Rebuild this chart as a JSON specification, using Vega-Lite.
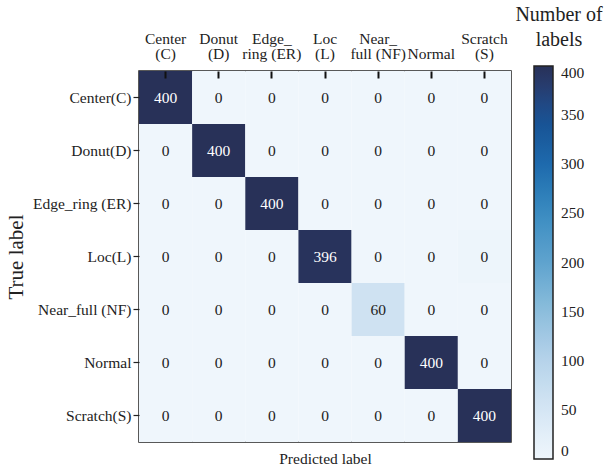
{
  "$schema": "https://vega.github.io/schema/vega-lite/v6.json",
  "width": 372,
  "height": 371,
  "autosize": {"type": "none"},
  "padding": {"left": 139, "top": 71, "right": 100, "bottom": 27},
  "background": "white",
  "config": {
    "font": "Liberation Serif",
    "view": {"stroke": "#222", "strokeWidth": 1.5},
    "axis": {"titleFont": "Liberation Serif", "labelFont": "Liberation Serif"}
  },
  "data": {
    "values": [
      {"t": "Center(C)", "p": "Center(C)", "n": 400, "s": "400"},
      {"t": "Center(C)", "p": "Donut(D)", "n": 0, "s": "0"},
      {"t": "Center(C)", "p": "Edge_ring (ER)", "n": 0, "s": "0"},
      {"t": "Center(C)", "p": "Loc(L)", "n": 0, "s": "0"},
      {"t": "Center(C)", "p": "Near_full (NF)", "n": 0, "s": "0"},
      {"t": "Center(C)", "p": "Normal", "n": 0, "s": "0"},
      {"t": "Center(C)", "p": "Scratch(S)", "n": 0, "s": "0"},
      {"t": "Donut(D)", "p": "Center(C)", "n": 0, "s": "0"},
      {"t": "Donut(D)", "p": "Donut(D)", "n": 400, "s": "400"},
      {"t": "Donut(D)", "p": "Edge_ring (ER)", "n": 0, "s": "0"},
      {"t": "Donut(D)", "p": "Loc(L)", "n": 0, "s": "0"},
      {"t": "Donut(D)", "p": "Near_full (NF)", "n": 0, "s": "0"},
      {"t": "Donut(D)", "p": "Normal", "n": 0, "s": "0"},
      {"t": "Donut(D)", "p": "Scratch(S)", "n": 0, "s": "0"},
      {"t": "Edge_ring (ER)", "p": "Center(C)", "n": 0, "s": "0"},
      {"t": "Edge_ring (ER)", "p": "Donut(D)", "n": 0, "s": "0"},
      {"t": "Edge_ring (ER)", "p": "Edge_ring (ER)", "n": 400, "s": "400"},
      {"t": "Edge_ring (ER)", "p": "Loc(L)", "n": 0, "s": "0"},
      {"t": "Edge_ring (ER)", "p": "Near_full (NF)", "n": 0, "s": "0"},
      {"t": "Edge_ring (ER)", "p": "Normal", "n": 0, "s": "0"},
      {"t": "Edge_ring (ER)", "p": "Scratch(S)", "n": 0, "s": "0"},
      {"t": "Loc(L)", "p": "Center(C)", "n": 0, "s": "0"},
      {"t": "Loc(L)", "p": "Donut(D)", "n": 0, "s": "0"},
      {"t": "Loc(L)", "p": "Edge_ring (ER)", "n": 0, "s": "0"},
      {"t": "Loc(L)", "p": "Loc(L)", "n": 396, "s": "396"},
      {"t": "Loc(L)", "p": "Near_full (NF)", "n": 0, "s": "0"},
      {"t": "Loc(L)", "p": "Normal", "n": 0, "s": "0"},
      {"t": "Loc(L)", "p": "Scratch(S)", "n": 4, "s": "0"},
      {"t": "Near_full (NF)", "p": "Center(C)", "n": 0, "s": "0"},
      {"t": "Near_full (NF)", "p": "Donut(D)", "n": 0, "s": "0"},
      {"t": "Near_full (NF)", "p": "Edge_ring (ER)", "n": 0, "s": "0"},
      {"t": "Near_full (NF)", "p": "Loc(L)", "n": 0, "s": "0"},
      {"t": "Near_full (NF)", "p": "Near_full (NF)", "n": 60, "s": "60"},
      {"t": "Near_full (NF)", "p": "Normal", "n": 0, "s": "0"},
      {"t": "Near_full (NF)", "p": "Scratch(S)", "n": 0, "s": "0"},
      {"t": "Normal", "p": "Center(C)", "n": 0, "s": "0"},
      {"t": "Normal", "p": "Donut(D)", "n": 0, "s": "0"},
      {"t": "Normal", "p": "Edge_ring (ER)", "n": 0, "s": "0"},
      {"t": "Normal", "p": "Loc(L)", "n": 0, "s": "0"},
      {"t": "Normal", "p": "Near_full (NF)", "n": 0, "s": "0"},
      {"t": "Normal", "p": "Normal", "n": 400, "s": "400"},
      {"t": "Normal", "p": "Scratch(S)", "n": 0, "s": "0"},
      {"t": "Scratch(S)", "p": "Center(C)", "n": 0, "s": "0"},
      {"t": "Scratch(S)", "p": "Donut(D)", "n": 0, "s": "0"},
      {"t": "Scratch(S)", "p": "Edge_ring (ER)", "n": 0, "s": "0"},
      {"t": "Scratch(S)", "p": "Loc(L)", "n": 0, "s": "0"},
      {"t": "Scratch(S)", "p": "Near_full (NF)", "n": 0, "s": "0"},
      {"t": "Scratch(S)", "p": "Normal", "n": 0, "s": "0"},
      {"t": "Scratch(S)", "p": "Scratch(S)", "n": 400, "s": "400"}
    ]
  },
  "encoding": {
    "y": {
      "field": "t",
      "type": "nominal",
      "sort": ["Center(C)", "Donut(D)", "Edge_ring (ER)", "Loc(L)", "Near_full (NF)", "Normal", "Scratch(S)"],
      "scale": {"paddingInner": 0, "paddingOuter": 0},
      "axis": {
        "title": "True label",
        "titleFontSize": 21,
        "titleFontWeight": "normal",
        "titleColor": "#222",
        "titlePadding": 6,
        "domain": false,
        "zindex": 2,
        "labelFontSize": 15.5,
        "labelColor": "#222",
        "labelPadding": 2,
        "tickSize": 6,
        "tickColor": "#222",
        "tickWidth": 1.2
      }
    }
  },
  "layer": [
    {
      "mark": {"type": "rect"},
      "encoding": {
        "x": {
          "field": "p",
          "type": "nominal",
          "sort": ["Center(C)", "Donut(D)", "Edge_ring (ER)", "Loc(L)", "Near_full (NF)", "Normal", "Scratch(S)"],
          "scale": {"paddingInner": 0, "paddingOuter": 0},
          "axis": {
            "orient": "top",
            "title": null,
            "domain": false,
            "zindex": 3,
            "offset": -7,
            "labelAngle": 0,
            "labelFontSize": 15.5,
            "labelColor": "#222",
            "labelLineHeight": 15.5,
            "labelBaseline": "alphabetic",
            "labelPadding": 28,
            "tickSize": 7,
            "tickColor": "#111",
            "tickWidth": 2,
            "labelExpr": "datum.value == 'Center(C)' ? ['Center','(C)'] : datum.value == 'Donut(D)' ? ['Donut','(D)'] : datum.value == 'Edge_ring (ER)' ? ['Edge_','ring (ER)'] : datum.value == 'Loc(L)' ? ['Loc','(L)'] : datum.value == 'Near_full (NF)' ? ['Near_','full (NF)'] : datum.value == 'Scratch(S)' ? ['Scratch','(S)'] : ['', datum.value]"
          }
        },
        "color": {
          "field": "n",
          "type": "quantitative",
          "scale": {
            "type": "linear",
            "domain": [0, 50, 100, 150, 200, 250, 300, 350, 400],
            "range": ["#eff6fc", "#d5e6f4", "#b6d3ea", "#8cbedc", "#5fa3ce", "#3a8cc1", "#1e6aad", "#174f90", "#283158"]
          },
          "legend": {
            "orient": "none",
            "legendX": 376,
            "legendY": -66,
            "direction": "vertical",
            "gradientLength": 393,
            "gradientThickness": 19,
            "gradientStrokeColor": "#222",
            "gradientStrokeWidth": 1.5,
            "title": ["Number of", "labels"],
            "titleFont": "Liberation Serif",
            "titleFontSize": 20,
            "titleFontWeight": "normal",
            "titleColor": "#222",
            "titleLineHeight": 25,
            "titleAnchor": "middle",
            "titleAlign": "center",
            "titlePadding": 16,
            "labelFont": "Liberation Serif",
            "labelFontSize": 15.5,
            "labelColor": "#222",
            "labelOffset": 8,
            "labelOverlap": false,
            "labelBaseline": "middle",
            "values": [0, 50, 100, 150, 200, 250, 300, 350, 400]
          }
        }
      }
    },
    {
      "mark": {"type": "text", "fontSize": 15.5},
      "encoding": {
        "x": {
          "field": "p",
          "type": "nominal",
          "sort": ["Center(C)", "Donut(D)", "Edge_ring (ER)", "Loc(L)", "Near_full (NF)", "Normal", "Scratch(S)"],
          "axis": {
            "orient": "bottom",
            "labels": false,
            "ticks": false,
            "domain": false,
            "title": "Predicted label",
            "titleFont": "Liberation Serif",
            "titleFontSize": 15.5,
            "titleFontWeight": "normal",
            "titleColor": "#222",
            "titlePadding": 9
          }
        },
        "text": {"field": "s"},
        "color": {"condition": {"test": "datum.n > 200", "value": "white"}, "value": "#222"}
      }
    }
  ],
  "resolve": {"axis": {"x": "independent"}}
}
